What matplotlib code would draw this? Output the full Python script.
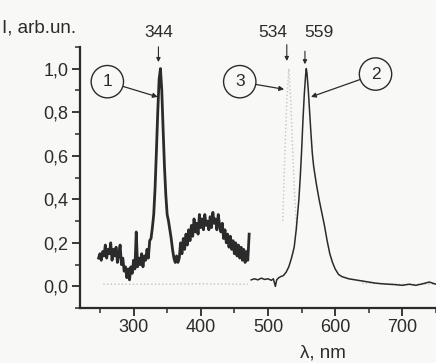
import numpy as np
import matplotlib
matplotlib.use("Agg")
import matplotlib.pyplot as plt
from matplotlib.ticker import MultipleLocator, FuncFormatter

plt.rcParams['font.family'] = ['Liberation Sans', 'DejaVu Sans']

# spectrum 1 (thick, noisy), sampled every 2 nm from 248 nm
y1 = [0.13, 0.15, 0.12, 0.16, 0.14, 0.19, 0.13, 0.17, 0.15, 0.20,
      0.12, 0.17, 0.14, 0.18, 0.11, 0.15, 0.19, 0.10, 0.13, 0.07,
      0.09, 0.04, 0.08, 0.03, 0.09, 0.06, 0.12, 0.08, 0.25, 0.09,
      0.13, 0.10, 0.15, 0.09, 0.14, 0.12, 0.17, 0.13, 0.21, 0.22,
      0.27, 0.33, 0.45, 0.62, 0.80, 0.95, 1.00, 0.90, 0.72, 0.55,
      0.42, 0.33, 0.30, 0.26, 0.22, 0.17, 0.13, 0.11, 0.14, 0.11,
      0.13, 0.20, 0.15, 0.22, 0.17, 0.24, 0.19, 0.26, 0.21, 0.28,
      0.23, 0.31, 0.25, 0.29, 0.24, 0.33, 0.27, 0.31, 0.26, 0.33,
      0.28, 0.30, 0.26, 0.32, 0.27, 0.34, 0.29, 0.31, 0.26, 0.33,
      0.28, 0.25, 0.29, 0.22, 0.26, 0.20, 0.24, 0.18, 0.23, 0.17,
      0.21, 0.15, 0.20, 0.14, 0.19, 0.13, 0.18, 0.12, 0.17, 0.11,
      0.16, 0.12, 0.24]
x1 = 248 + 2 * np.arange(len(y1))

# spectrum 2 (thin line)
x2 = [475, 480, 485, 490, 495, 500, 505, 508, 511, 513, 516, 519, 523, 527,
      531, 535, 539, 542, 544, 546, 548, 550, 552, 554, 556, 557, 558, 560,
      562, 564, 566, 568, 570, 572, 576, 580, 584, 588, 592, 596, 600, 605,
      610, 620, 630, 640, 650, 660, 670, 680, 690, 700, 710, 720, 730, 740, 750]
y2 = [0.03, 0.035, 0.03, 0.038, 0.032, 0.035, 0.028, 0.035, 0.0, 0.03, 0.04,
      0.045, 0.05, 0.065, 0.09, 0.13, 0.18, 0.26, 0.33, 0.40, 0.50, 0.62, 0.76,
      0.88, 0.97, 1.0, 0.98, 0.90, 0.80, 0.70, 0.61, 0.55, 0.51, 0.47, 0.40,
      0.34, 0.28, 0.21, 0.15, 0.11, 0.08, 0.055, 0.045, 0.035, 0.03, 0.025,
      0.02, 0.015, 0.012, 0.01, 0.008, 0.005, 0.01, 0.005, 0.012, 0.02, 0.01]

# spectrum 3 (faint dotted, only partly visible in the scan)
x3 = [255, 300, 350, 400, 470, np.nan, 522, 525, 528, 531, 534, 537, 540,
      543, np.nan, 640, 700, 750]
y3 = [0.01, 0.01, 0.01, 0.012, 0.01, np.nan, 0.3, 0.6, 0.85, 1.0, 0.85,
      0.6, 0.4, 0.25, np.nan, 0.015, 0.01, 0.01]

ink = '#2b2b2b'
bg = '#f8f8f6'

fig = plt.figure(figsize=(4.36, 3.63), dpi=100, facecolor=bg)
ax = fig.add_axes([0.183, 0.151, 0.817, 0.72], facecolor=bg)

ax.plot(x3, y3, ls=':', color='#c4c4c4', lw=1.0)
ax.plot(x1, y1, color=ink, lw=2.0)
ax.plot(x2, y2, color=ink, lw=1.1)

ax.set_xlim(220, 750)
ax.set_ylim(-0.1, 1.1)
ax.xaxis.set_major_locator(MultipleLocator(100))
ax.xaxis.set_minor_locator(MultipleLocator(50))
ax.yaxis.set_major_locator(MultipleLocator(0.2))
ax.yaxis.set_minor_locator(MultipleLocator(0.1))
ax.yaxis.set_major_formatter(FuncFormatter(lambda v, p: f'{v:.1f}'.replace('.', ',').replace('-0,0', '0,0')))
ax.xaxis.set_major_formatter(FuncFormatter(lambda v, p: '' if v < 300 else f'{v:.0f}'))

for s in ['top', 'right']:
    ax.spines[s].set_visible(False)
for s in ['left', 'bottom']:
    ax.spines[s].set_linewidth(1.6)
    ax.spines[s].set_color(ink)
ax.tick_params(which='major', length=6, width=1.3, colors=ink, labelsize=13, pad=2)
ax.tick_params(which='minor', length=3.5, width=1.1, colors=ink)

# circled curve numbers
circ = dict(boxstyle='circle,pad=0.5', fc=bg, ec=ink, lw=1.0)
arr = dict(arrowstyle='-|>', lw=0.9, color=ink, mutation_scale=7, shrinkA=0, shrinkB=0)
ax.annotate('1', xy=(336, 0.87), xytext=(261, 0.94), fontsize=12.5, color=ink,
            ha='center', va='center', bbox=circ, arrowprops=arr)
ax.annotate('3', xy=(524, 0.905), xytext=(458, 0.94), fontsize=12.5, color=ink,
            ha='center', va='center', bbox=circ, arrowprops=arr)
ax.annotate('2', xy=(564, 0.87), xytext=(660, 0.975), fontsize=12.5, color=ink,
            ha='center', va='center', bbox=circ, arrowprops=arr)

# peak wavelength labels
peaks = [('344', 337, 337, 1.10, 1.03), ('534', 507, 528, 1.11, 1.035), ('559', 576, 555, 1.08, 1.02)]
for lab, xt, xa, ya0, ya1 in peaks:
    ax.text(xt, 1.168, lab, fontsize=12.5, color=ink, ha='center', va='center', clip_on=False)
    ax.annotate('', xy=(xa, ya1), xytext=(xa, ya0), annotation_clip=False,
                arrowprops=dict(arrowstyle='-|>', lw=0.8, color=ink, mutation_scale=6,
                                shrinkA=0, shrinkB=0))

fig.text(0.005, 0.923, 'I, arb.un.', fontsize=13.5, color=ink, ha='left', va='center')
fig.text(0.74, 0.028, 'λ, nm', fontsize=13.5, color=ink, ha='center', va='center')

fig.savefig('out.png', dpi=100, facecolor=bg)
